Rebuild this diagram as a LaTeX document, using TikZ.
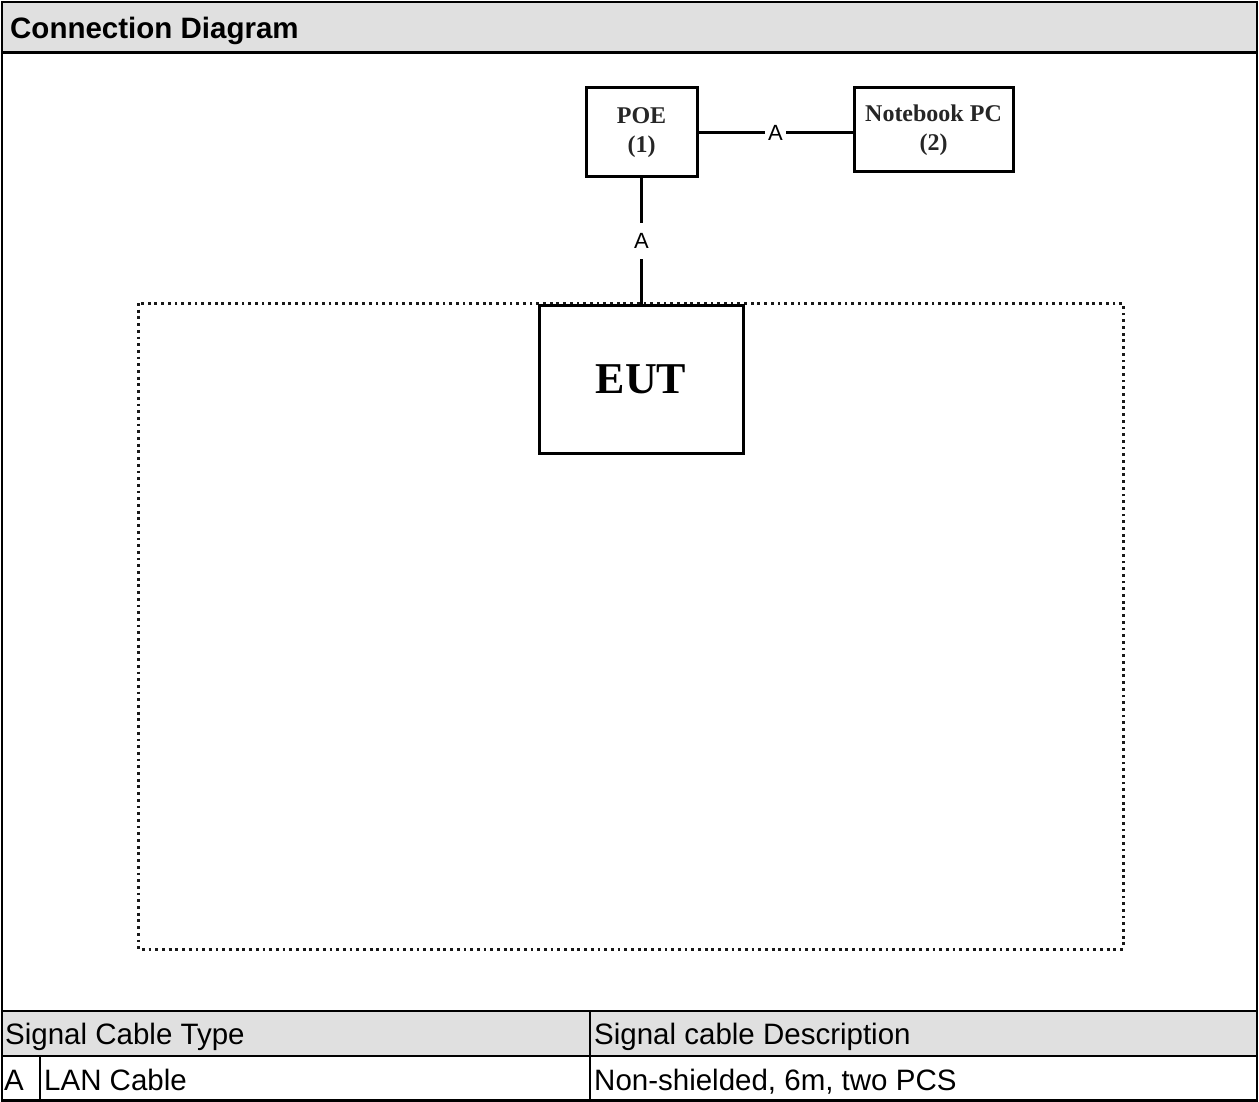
\documentclass[tikz,border=0pt]{standalone}
\usepackage{fontspec}
\setmainfont{Liberation Serif}
\newfontfamily\arialf{Liberation Sans}
\definecolor{hdrgray}{RGB}{224,224,224}
\begin{document}
\begin{tikzpicture}[x=1pt,y=-1pt,
  frameline/.style={line width=2.6pt},
  devbox/.style={draw, rectangle, line width=3pt, inner sep=0pt, align=center, text=black!85},
  devfont/.style={font=\bfseries\fontsize{24}{29}\selectfont},
  cable/.style={line width=2.5pt},
  cablelabel/.style={fill=white, font=\arialf\fontsize{22}{26}\selectfont, inner xsep=3pt, inner ysep=10pt},
  tabtext/.style={anchor=base west, font=\arialf\fontsize{29.5}{33}\selectfont, inner sep=0pt},
  dotline/.style={line width=3pt, dash pattern=on 2.8pt off 3.9pt, black!90}]
\useasboundingbox (0,0) rectangle (1259,1102);
% backgrounds
\fill[hdrgray] (2,2) rectangle (1257,52.5);
\fill[hdrgray] (2,1011) rectangle (1257,1056);
% frame lines
\draw[frameline] (2,2) rectangle (1257,1100.5);
\draw[frameline] (2,52.5) -- (1257,52.5);
\draw[frameline] (2,1011) -- (1257,1011);
\draw[frameline] (2,1056) -- (1257,1056);
\draw[frameline] (590,1011) -- (590,1100.5);
\draw[frameline] (40,1056) -- (40,1100.5);
% texts
\node[tabtext, font=\arialf\bfseries\fontsize{29.5}{32}\selectfont] (title) at (10,39) {Connection Diagram};
\node[tabtext] (hdrtype) at (5,1044) {Signal Cable Type};
\node[tabtext] (hdrdesc) at (594,1044) {Signal cable Description};
\node[tabtext] (rowa) at (4,1090) {A};
\node[tabtext] (rowlan) at (44,1090) {LAN Cable};
\node[tabtext] (rowdesc) at (594,1090) {Non-shielded, 6m, two PCS};
% dotted area
\draw[dotline] (138,303) rectangle (1123,949);
% devices
\node[devbox, devfont, minimum width=111pt, minimum height=89pt] (poe) at (641.5,132.5) {POE\\(1)};
\node[devbox, devfont, minimum width=159pt, minimum height=84pt] (pc) at (933.5,130) {Notebook PC\\(2)};
\node[devbox, fill=white, font=\bfseries\fontsize{44}{48}\selectfont, text=black, minimum width=204pt, minimum height=148pt] (eut) at (641,379) {EUT};
% cables
\draw[cable] (poe.east) -- node[cablelabel] {A} (poe.east -| pc.west);
\draw[cable] (poe.south) -- node[cablelabel] {A} (poe.south |- eut.north);
\end{tikzpicture}
\end{document}
